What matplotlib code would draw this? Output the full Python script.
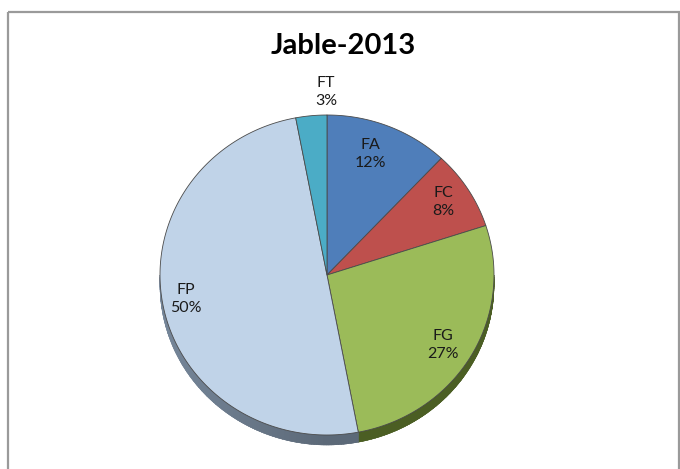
import numpy as np
import matplotlib
matplotlib.use("Agg")
import matplotlib.pyplot as plt
from matplotlib.patches import Polygon, Rectangle
from matplotlib.colors import to_rgb

# Share of each class
categories = ["FA", "FC", "FG", "FP", "FT"]
shares = [12, 8, 27, 50, 3]
colors = ["#4F7EBA", "#BE504D", "#9BBB59", "#C0D3E8", "#4BACC6"]
side_colors = ["#34557F", "#843532", "#4B5E23", "#5C6978", "#2F7486"]
title = "Jable-2013"

# label placement: radius and angular nudge from each slice's mid-angle
label_radius = [0.811, 0.838, 0.815, 0.855, 1.156]
label_shift = [3.1, 1.6, -0.8, -1.5, -5.1]

W, H = 680, 469
fig = plt.figure(figsize=(W / 100, H / 100), dpi=100)

# chart frame
bg = fig.add_axes([0, 0, 1, 1])
bg.set_xlim(0, W)
bg.set_ylim(H, 0)
bg.axis("off")
bg.add_patch(Rectangle((8, 12.5), 671, 470, fill=False, edgecolor="#9a9a9a", lw=1.6))

# pie axes: one x unit = 167 px, one y unit = 160 px, centre at (327, 275)
rx, ry = 167, 160
cx, cy = 327, 275
x0, x1, y0, y1 = -1.1, 1.1, -1.2, 1.1
ax = fig.add_axes([(cx + x0 * rx) / W, (H - cy + y0 * ry) / H,
                   (x1 - x0) * rx / W, (y1 - y0) * ry / H])
ax.set_xlim(x0, x1)
ax.set_ylim(y0, y1)
ax.axis("off")

depth = 10 / ry
total = sum(shares)
fracs = np.array(shares) / total
starts = 90 - 360 * np.concatenate([[0], np.cumsum(fracs)[:-1]])
ends = starts - 360 * fracs


def draw_side(a0, a1, color):
    """Shaded rim between angles a0 < a1 (degrees), on the lower half only."""
    th = np.linspace(a0, a1, 120)
    base = np.array(to_rgb(color))
    for t0, t1 in zip(th[:-1], th[1:]):
        tm = np.radians((t0 + t1) / 2)
        k = 1.0 + 0.28 * max(0.0, -np.cos(tm))
        col = np.clip(base * k, 0, 1)
        r0, r1 = np.radians(t0), np.radians(t1)
        quad = [(np.cos(r0), np.sin(r0)), (np.cos(r1), np.sin(r1)),
                (np.cos(r1), np.sin(r1) - depth), (np.cos(r0), np.sin(r0) - depth)]
        ax.add_patch(Polygon(quad, closed=True, facecolor=col, edgecolor=col, lw=0.3))


for s, e, c in zip(starts, ends, side_colors):
    for off in (0, 360):
        a0, a1 = max(e + off, -180.0 + off), min(s + off, 0.0 + off)
        if a0 < a1:
            draw_side(a0, a1, c)

# top faces
for s, e, c in zip(starts, ends, colors):
    th = np.radians(np.linspace(s, e, 200))
    pts = [(0, 0)] + list(zip(np.cos(th), np.sin(th)))
    ax.add_patch(Polygon(pts, closed=True, facecolor=c, edgecolor="#4a4a4a", lw=0.6,
                         joinstyle="round"))

# slice labels (small downward nudge so the text block sits on its anchor)
font = "Lato"
nudge = 2 / ry
for name, v, s, e, r, d in zip(categories, shares, starts, ends, label_radius, label_shift):
    m = np.radians((s + e) / 2 + d)
    ax.text(r * np.cos(m), r * np.sin(m) - nudge, f"{name}\n{v}%", ha="center",
            va="center", fontsize=11.5, family=font, color="#1a1a1a", linespacing=1.3)

bg.text(343.5, 46, title, ha="center", va="center", fontsize=21, fontweight="bold",
        family=font, color="black")

fig.savefig("out.png", dpi=100)
